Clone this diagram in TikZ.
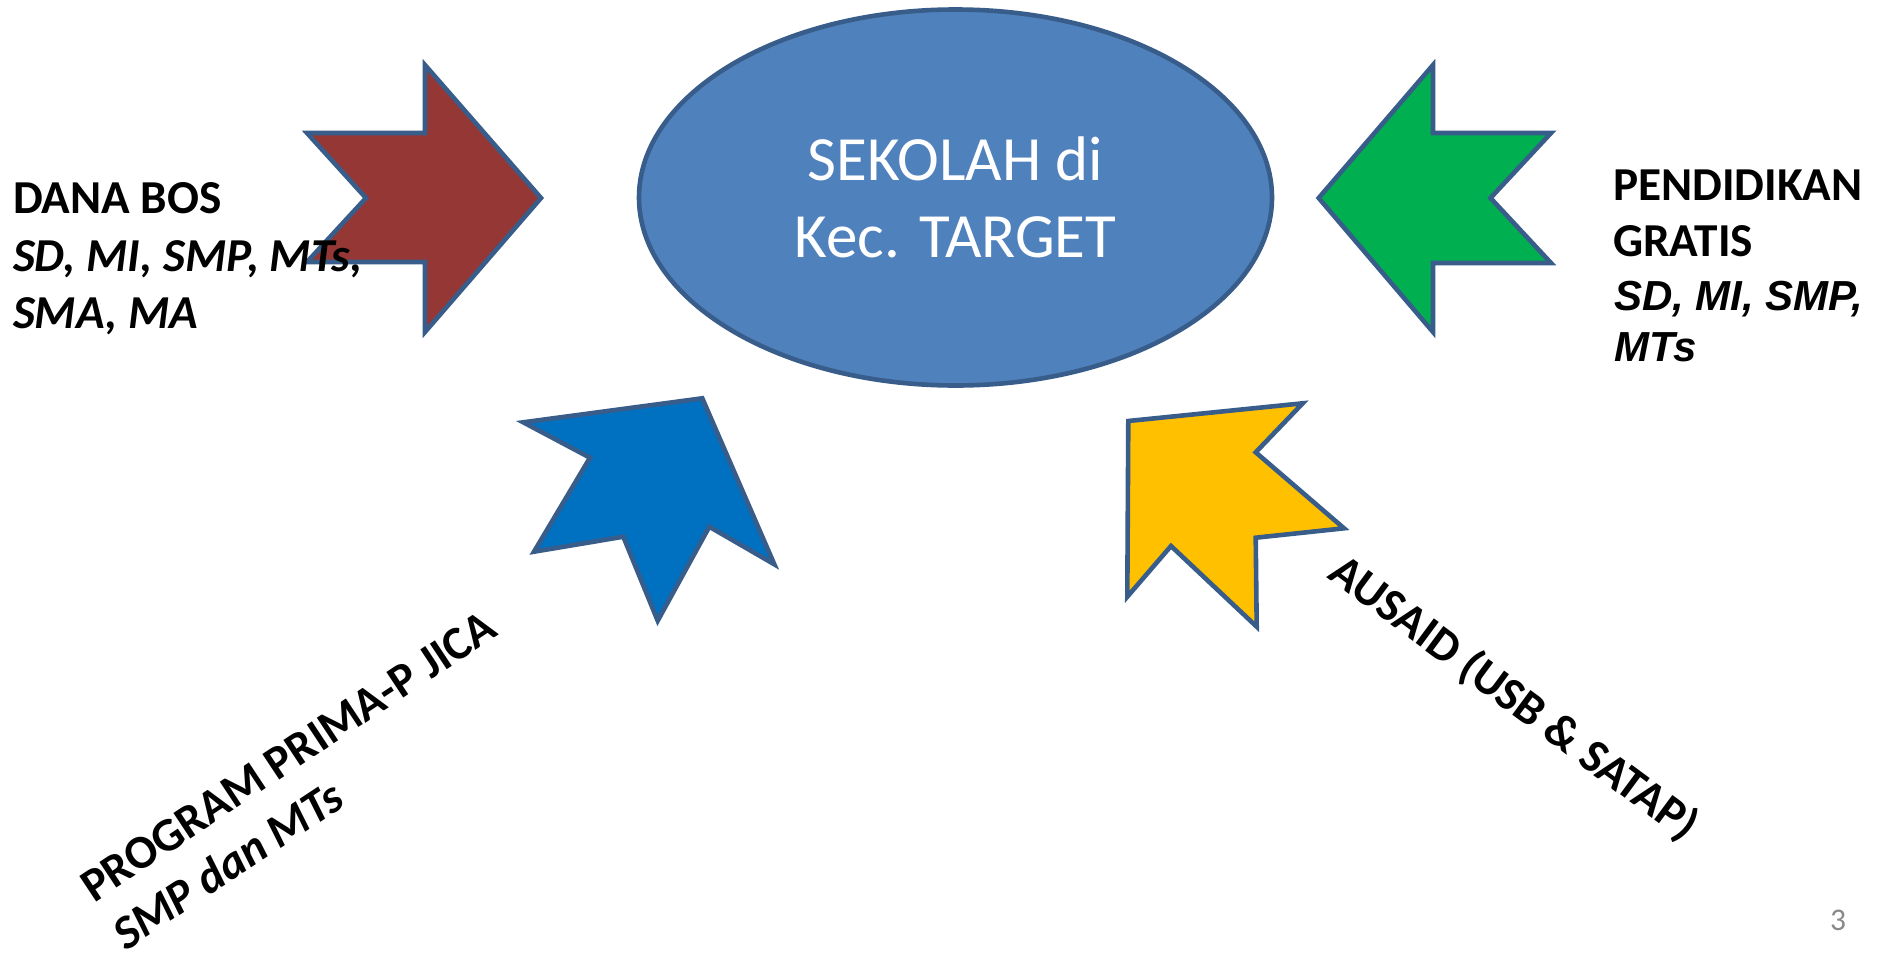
\documentclass[tikz,border=0pt]{standalone}
\usepackage{fontspec}
\setmainfont{Carlito}
\newfontfamily\arialfont{Liberation Sans}
\usetikzlibrary{shapes.geometric}
\definecolor{redA}{RGB}{149,55,53}
\definecolor{greenA}{RGB}{0,176,80}
\definecolor{blueA}{RGB}{0,112,192}
\definecolor{yellowA}{RGB}{255,192,0}
\definecolor{ellfill}{RGB}{79,129,189}
\definecolor{edgeC}{RGB}{56,93,138}
\definecolor{numgray}{RGB}{137,137,137}
\tikzset{
  shp/.style={draw=edgeC, line width=4.6pt, line join=miter},
  lbl/.style={inner sep=0pt, outer sep=0pt, anchor=base west, text=black,
    font=\fontsize{47.25pt}{57.7pt}\selectfont\bfseries},
  lbli/.style={lbl, font=\fontsize{47.25pt}{57.7pt}\selectfont\bfseries\itshape},
  lblar/.style={lbl, font=\arialfont\fontsize{42pt}{48pt}\selectfont\bfseries\itshape},
}
\begin{document}
\begin{tikzpicture}[x=1pt,y=-1pt]
\fill[white] (0,0) rectangle (1890,954);
\useasboundingbox (0,0) rectangle (1890,954);

% central ellipse
\node[ellipse, draw=edgeC, fill=ellfill, line width=4.6pt,
  minimum width=633pt, minimum height=376pt, inner sep=0pt,
  text=white, align=center,
  font=\fontsize{63pt}{76.9pt}\selectfont] (target) at (955.5,197.5)
  {SEKOLAH di\\Kec. TARGET};

% red arrow (left)
\filldraw[shp, fill=redA] (307,133) -- (425,133) -- (425,65) -- (541,198)
  -- (425,332) -- (425,262) -- (307,262) -- (366,198) -- cycle;
% green arrow (right)
\filldraw[shp, fill=greenA] (1318.7,198) -- (1433,65) -- (1433,133) -- (1551,133)
  -- (1490.5,198) -- (1551,263) -- (1433,263) -- (1433,332) -- cycle;
% blue arrow (lower left)
\filldraw[shp, fill=blueA] (523.3,422.3) -- (702.3,398.3) -- (774.3,564.3)
  -- (709.3,526.7) -- (657.7,620.7) -- (623.3,536.7) -- (534,551.7)
  -- (590,457.7) -- cycle;
% yellow arrow (lower right)
\filldraw[shp, fill=yellowA] (1128.3,421) -- (1302.7,403.3) -- (1255.7,452.3)
  -- (1344,528.3) -- (1255.7,537.7) -- (1256.7,626.7) -- (1171,546)
  -- (1127.3,596.7) -- cycle;

% left label
\node[lbl]  (bos1) at (13,213.3) {DANA BOS};
\node[lbli] (bos2) at (13,271.3) {SD, MI, SMP, MTs,};
\node[lbli] (bos3) at (13,328.5) {SMA, MA};

% right label
\node[lbl]   (gr1) at (1613,200) {PENDIDIKAN};
\node[lbl]   (gr2) at (1613,256.7) {GRATIS};
\node[lblar] (gr3) at (1614,310) {SD, MI, SMP,};
\node[lblar] (gr4) at (1614,361.7) {MTs};

% rotated labels
\node[lbl,  rotate=33.5] (jica1) at (94,903) {PROGRAM PRIMA-P JICA};
\node[lbli, rotate=33.5] (jica2) at (126,951) {SMP dan MTs};
\node[lbl, rotate=-36.5] (aus) at (1326,577) {AUSAID (USB \& SATAP)};

% page number
\node[inner sep=0pt, anchor=base west, text=numgray,
  font=\fontsize{31.5pt}{38pt}\selectfont] (pnum) at (1830,930) {3};
\end{tikzpicture}
\end{document}
